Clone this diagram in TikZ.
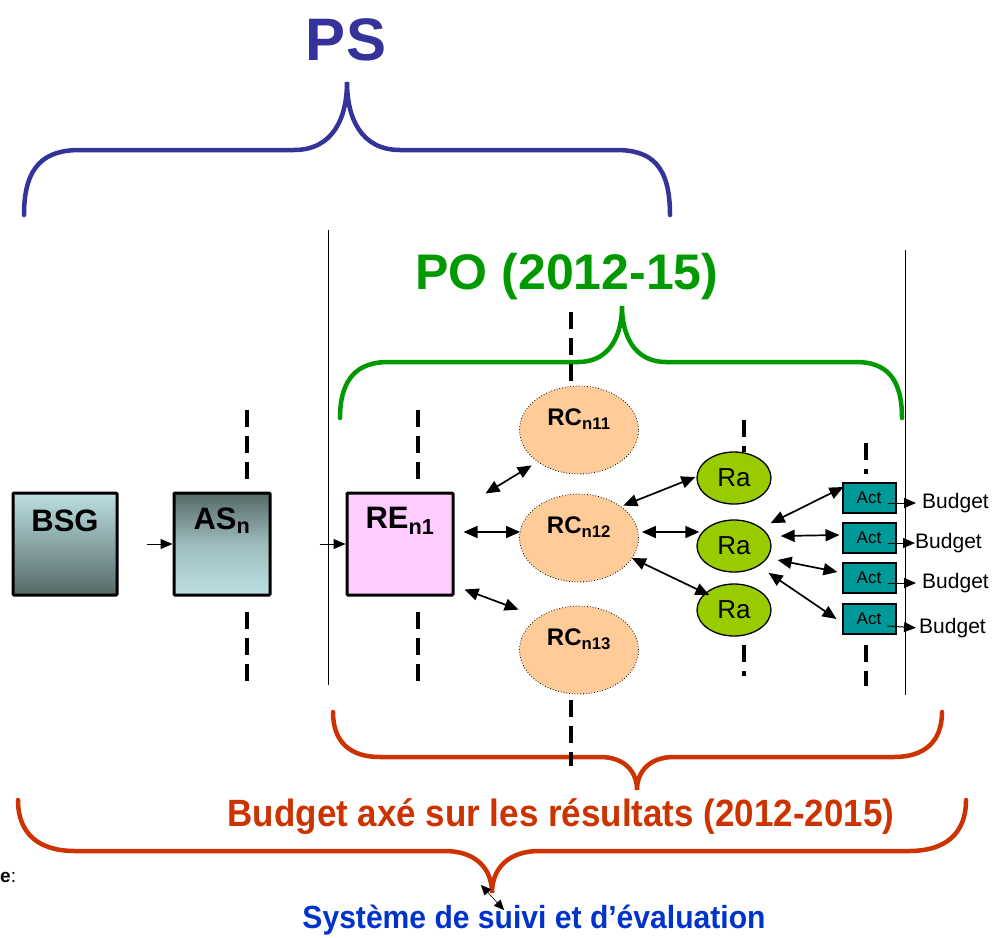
\documentclass[tikz,border=0pt]{standalone}
\usepackage{fontspec}
\setmainfont{Liberation Sans}
\newfontfamily\narrowsf[FakeStretch=0.92]{Liberation Sans}
\newfontfamily\slimsf[FakeStretch=0.94]{Liberation Sans}
\usetikzlibrary{arrows.meta,positioning,calc,shapes.geometric}

\definecolor{psblue}{HTML}{333399}
\definecolor{pogreen}{HTML}{009900}
\definecolor{bared}{HTML}{CC3300}
\definecolor{sysblue}{HTML}{0033CC}
\definecolor{rcfill}{HTML}{FFCC99}
\definecolor{rafill}{HTML}{99CC00}
\definecolor{actfill}{HTML}{009999}
\definecolor{refill}{HTML}{FFCCFF}
\definecolor{boxlight}{HTML}{BCE0E2}
\definecolor{boxdark}{HTML}{566868}

\tikzset{
  box/.style={draw, line width=3pt, rounded corners=1pt, minimum height=102pt, inner sep=0pt},
  toplbl/.style={yshift=23pt, font=\bfseries\fontsize{31}{34}\selectfont},
  rcnode/.style={ellipse, draw, dotted, line width=0.8pt, fill=rcfill, minimum width=119pt, minimum height=88pt, inner sep=0pt},
  rclbl/.style={yshift=11pt, font=\bfseries\fontsize{24}{27}\selectfont},
  ranode/.style={ellipse, draw, line width=1.3pt, fill=rafill, minimum width=74pt, minimum height=52pt, inner sep=0pt, font=\fontsize{26}{28}\selectfont},
  actnode/.style={draw, line width=2pt, fill=actfill, minimum width=53pt, minimum height=30pt, inner sep=0pt, font=\fontsize{17}{19}\selectfont},
  budnode/.style={anchor=west, inner sep=0pt, font=\fontsize{21}{23}\selectfont},
  guide/.style={line width=3.3pt, dash pattern=on 17pt off 9pt},
  dbl/.style={{Triangle[length=14pt,width=12pt]}-{Triangle[length=14pt,width=12pt]}, line width=1.7pt},
  sarr/.style={-{Triangle[length=12pt,width=10pt]}, line width=1pt},
  brace/.style={line width=4.5pt, line cap=round}
}

\begin{document}
\begin{tikzpicture}[x=1pt, y=-1pt]
  \useasboundingbox (0,0) rectangle (992,937);

  % PS
  \node[text=psblue, font=\bfseries\fontsize{60}{64}\selectfont] (ps) at (346,40) {PS};
  \draw[brace, psblue] (24,215) .. controls (24,165) and (45,150) .. (80,150) -- (294,150)
    .. controls (333,150) and (347,118) .. (347,82)
    .. controls (347,118) and (361,150) .. (400,150) -- (616,150)
    .. controls (651,150) and (670,165) .. (670,215);

  % thin frame lines of the PO
  \draw[line width=0.8pt] (328,230) -- (328,685);
  \draw[line width=0.8pt] (905,250) -- (905,695);

  % PO
  \node[text=pogreen, font=\bfseries\fontsize{50}{54}\selectfont] (po) at (567,277) {PO (2012-15)};
  \draw[brace, pogreen] (340,418) .. controls (340,378) and (358,362) .. (388,362) -- (578,362)
    .. controls (610,362) and (622,335) .. (622,306)
    .. controls (622,335) and (634,362) .. (666,362) -- (856,362)
    .. controls (886,362) and (902,378) .. (902,418);

  % budget braces
  \draw[brace, bared] (333,712) .. controls (333,742) and (350,757) .. (380,757) -- (600,757)
    .. controls (625,757) and (637,772) .. (637,790)
    .. controls (637,772) and (649,757) .. (674,757) -- (894,757)
    .. controls (924,757) and (942,742) .. (942,712);
  \node[text=bared, font=\narrowsf\bfseries\fontsize{38}{42}\selectfont] (bar) at (561,817) {Budget axé sur les résultats (2012-2015)};
  \draw[brace, bared] (18,800) .. controls (18,835) and (40,851) .. (75,851) -- (445,851)
    .. controls (475,851) and (492,868) .. (492,893)
    .. controls (492,868) and (509,851) .. (539,851) -- (909,851)
    .. controls (944,851) and (966,835) .. (966,800);

  % dashed guides
  \draw[guide] (247,410) -- (247,486);
  \draw[guide] (247,612) -- (247,686);
  \draw[guide] (418,410) -- (418,486);
  \draw[guide] (418,612) -- (418,686);
  \draw[guide] (571,312) -- (571,388);
  \draw[guide] (571,700) -- (571,766);
  \draw[guide] (744,420) -- (744,452);
  \draw[guide] (744,645) -- (744,676);
  \draw[guide] (866,443) -- (866,474);
  \draw[guide] (866,645) -- (866,686);

  % boxes
  \node[box, minimum width=104pt, top color=boxlight, bottom color=boxdark,
        label={[toplbl]center:BSG}] (bsg) at (65,544) {};
  \node[box, minimum width=96pt, top color=boxdark, bottom color=boxlight, middle color=boxlight!70!boxdark,
        label={[toplbl]center:AS\textsubscript{n}}] (asn) at (222,544) {};
  \node[box, minimum width=106pt, fill=refill,
        label={[toplbl]center:RE\textsubscript{n1}}] (ren) at (400,544) {};

  % RC
  \node[rcnode, label={[rclbl]center:RC\textsubscript{n11}}] (rc11) at (579,430) {};
  \node[rcnode, label={[rclbl]center:RC\textsubscript{n12}}] (rc12) at (579,538) {};
  \node[rcnode, label={[rclbl]center:RC\textsubscript{n13}}] (rc13) at (579,650) {};

  % Ra
  \node[ranode] (ra1) at (734,478) {Ra};
  \node[ranode] (ra2) at (734,546) {Ra};
  \node[ranode] (ra3) at (734,610) {Ra};

  % Act and Budget
  \node[actnode] (act1) at (869,498) {Act};
  \node[actnode] (act2) at (869,538) {Act};
  \node[actnode] (act3) at (869,578) {Act};
  \node[actnode] (act4) at (869,619) {Act};
  \node[budnode] (bud1) at (922,503) {Budget};
  \node[budnode] (bud2) at (915,543) {Budget};
  \node[budnode] (bud3) at (922,583) {Budget};
  \node[budnode] (bud4) at (919,628) {Budget};

  % arrows
  \draw[sarr, shorten <=28pt] (bsg) -- (asn);
  \draw[sarr, shorten <=48pt] (asn) -- (ren);
  \draw[dbl] ($(ren.north east)+(31,2)$) -- ($(rc11.south west)+(-5,4)$);
  \draw[dbl] ($(ren.east)+(9,-12)$) -- ($(rc12.west)+(1,-6)$);
  \draw[dbl] ($(ren.south east)+(10,-7)$) -- ($(rc13.north west)+(-18,-9)$);
  \draw[dbl] ($(rc12.north east)+(2,-1)$) -- ($(ra1.west)+(-1,-1)$);
  \draw[dbl] ($(rc12.east)+(3,-6)$) -- ($(ra2.west)+(3,-14)$);
  \draw[dbl] ($(rc12.east)+(-7,20)$) -- ($(ra3.north west)+(2,4)$);
  \draw[dbl] ($(ra2.north east)+(10,-4)$) -- ($(act1.north west)+(2,5)$);
  \draw[dbl] ($(ra2.east)+(9,-10)$) -- ($(act2.west)+(-2,-3)$);
  \draw[dbl] ($(ra2.east)+(6,14)$) -- ($(act3.west)+(-4,-6)$);
  \draw[dbl] ($(ra2.south east)+(8,8)$) -- ($(act4.west)+(-5,0)$);
  \draw[sarr, shorten >=6pt] ($(act1.east)+(-9,5)$) -- (bud1.west);
  \draw[sarr, shorten >=0pt] ($(act2.east)+(-9,5)$) -- (bud2.west);
  \draw[sarr, shorten >=6pt] ($(act3.east)+(-9,5)$) -- (bud3.west);
  \draw[sarr, shorten >=3pt] ($(act4.east)+(-9,7)$) -- (bud4.west);

  % suivi et evaluation
  \node[anchor=west, inner sep=0pt, font=\fontsize{19}{21}\selectfont] (lgd) at (0,877) {\textbf{e}:};
  \node[text=sysblue, font=\slimsf\bfseries\fontsize{32}{36}\selectfont] (sys) at (534,920) {Système de suivi et d’évaluation};
  \coordinate (btip) at (492,896);
  \draw[{Triangle[length=10pt,width=9pt]}-{Triangle[length=10pt,width=9pt]}, line width=0.6pt]
    ($(btip)+(-11,-11)$) -- ($(btip)+(12,14)$);
\end{tikzpicture}
\end{document}
